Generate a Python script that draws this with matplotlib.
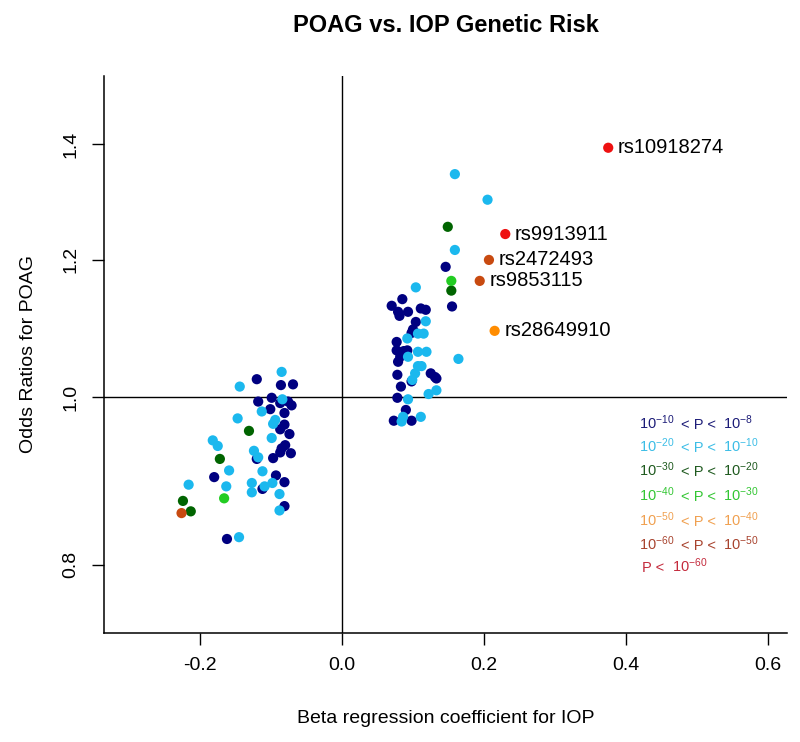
import matplotlib
matplotlib.use("Agg")
import matplotlib.pyplot as plt
from matplotlib.ticker import FixedLocator, FixedFormatter, NullLocator

plt.rcParams["font.family"] = ["Liberation Sans", "DejaVu Sans"]
plt.rcParams["mathtext.fontset"] = "custom"
plt.rcParams["mathtext.rm"] = "Liberation Sans"
plt.rcParams["mathtext.it"] = "Liberation Sans"

# beta (IOP) and odds ratio (POAG) per P-value class
beta_p8 = [0.146, 0.070, 0.085, 0.079, 0.081, 0.093, 0.111, 0.118, 0.155, 0.104,
           0.100, 0.098, 0.077, 0.077, 0.087, 0.092, 0.082, 0.079, 0.125, 0.131,
           0.133, 0.078, 0.098, 0.083, 0.078, 0.090, 0.073, 0.098,
           -0.120, -0.086, -0.069, -0.099, -0.118, -0.087, -0.076, -0.071, -0.101,
           -0.081, -0.081, -0.087, -0.074, -0.080, -0.085, -0.087, -0.072, -0.097,
           -0.120, -0.093, -0.180, -0.081, -0.112, -0.081, -0.162]
or_p8 = [1.189, 1.129, 1.139, 1.120, 1.114, 1.120, 1.125, 1.123, 1.128, 1.105,
         1.094, 1.089, 1.076, 1.064, 1.063, 1.064, 1.055, 1.048, 1.032, 1.027,
         1.025, 1.030, 1.021, 1.014, 0.999, 0.983, 0.969, 0.969,
         1.024, 1.016, 1.017, 0.999, 0.994, 0.992, 0.994, 0.989, 0.984,
         0.979, 0.964, 0.958, 0.952, 0.938, 0.934, 0.929, 0.928, 0.922,
         0.921, 0.901, 0.899, 0.893, 0.885, 0.865, 0.828]

beta_p10 = [0.159, 0.205, 0.159, 0.104, 0.118, 0.107, 0.115, 0.092, 0.107, 0.119,
            0.093, 0.164, 0.107, 0.112, 0.103, 0.099, 0.133, 0.122, 0.093, 0.086,
            0.084, 0.111,
            -0.085, -0.144, -0.084, -0.113, -0.147, -0.094, -0.097, -0.099, -0.182,
            -0.175, -0.124, -0.118, -0.159, -0.112, -0.163, -0.127, -0.109, -0.098,
            -0.216, -0.127, -0.088, -0.088, -0.145]
or_p10 = [1.345, 1.300, 1.216, 1.157, 1.106, 1.088, 1.088, 1.081, 1.062, 1.062,
          1.055, 1.052, 1.042, 1.042, 1.032, 1.023, 1.009, 1.004, 0.997, 0.974,
          0.968, 0.974,
          1.034, 1.014, 0.997, 0.981, 0.972, 0.970, 0.965, 0.947, 0.944,
          0.937, 0.931, 0.923, 0.907, 0.906, 0.888, 0.892, 0.888, 0.892,
          0.890, 0.881, 0.879, 0.860, 0.830]

beta_p20 = [0.149, 0.154, -0.131, -0.172, -0.224, -0.213]
or_p20 = [1.254, 1.152, 0.956, 0.921, 0.871, 0.859]

beta_p30 = [0.154, -0.166]
or_p30 = [1.167, 0.874]

beta_p40 = [0.215]
or_p40 = [1.092]

beta_p50 = [0.207, 0.194, -0.226]
or_p50 = [1.200, 1.167, 0.857]

beta_p60 = [0.230, 0.375]
or_p60 = [1.242, 1.393]

snp_names = ["rs10918274", "rs9913911", "rs2472493", "rs9853115", "rs28649910"]
snp_beta = [0.375, 0.230, 0.207, 0.194, 0.215]
snp_or = [1.393, 1.242, 1.200, 1.167, 1.092]

class_colors = ["#000080", "#1BB8EE", "#006400", "#22CC22", "#FF8C00", "#C84A10", "#EE1111"]
text_colors = ["#1C1C78", "#3CBDE6", "#1F5A1F", "#33C633", "#F0A050", "#A8432E", "#C42A3C"]
legend_lo = ["10^{-10}", "10^{-20}", "10^{-30}", "10^{-40}", "10^{-50}", "10^{-60}"]
legend_hi = ["10^{-8}", "10^{-10}", "10^{-20}", "10^{-30}", "10^{-40}", "10^{-50}"]

groups = [(beta_p8, or_p8), (beta_p10, or_p10), (beta_p20, or_p20),
          (beta_p30, or_p30), (beta_p40, or_p40), (beta_p50, or_p50),
          (beta_p60, or_p60)]

fig = plt.figure(figsize=(8, 7.42), dpi=100)
ax = fig.add_axes([0.13, 0.1469, 0.85375, 0.7507])

ax.axhline(1.0, color="black", lw=1.0, zorder=1)
ax.axvline(0.0, color="black", lw=1.0, zorder=1)

for (bx, oy), col in zip(groups, class_colors):
    ax.scatter(bx, oy, s=54, color=col, edgecolors="none", zorder=3)

for name, bx, oy in zip(snp_names, snp_beta, snp_or):
    ax.annotate(name, (bx, oy), xytext=(7, 0), textcoords="offset points",
                va="center", ha="left", fontsize=14.5)

ax.set_yscale("log")
ax.set_xlim(-0.3352, 0.6268)
ax.set_ylim(0.7307, 1.5325)
ax.set_xticks([-0.2, 0.0, 0.2, 0.4, 0.6])
ax.set_xticklabels(["-0.2", "0.0", "0.2", "0.4", "0.6"])
ax.yaxis.set_major_locator(FixedLocator([0.8, 1.0, 1.2, 1.4]))
ax.yaxis.set_major_formatter(FixedFormatter(["0.8", "1.0", "1.2", "1.4"]))
ax.yaxis.set_minor_locator(NullLocator())
for lab in ax.get_yticklabels():
    lab.set_rotation(90)
    lab.set_va("center")

ax.tick_params(direction="out", length=8.5, width=1.0, labelsize=14, pad=9)
for side in ["top", "right"]:
    ax.spines[side].set_visible(False)
for side in ["left", "bottom"]:
    ax.spines[side].set_linewidth(1.1)

ax.set_xlabel("Beta regression coefficient for IOP", fontsize=14)
ax.set_ylabel("Odds Ratios for POAG", fontsize=14)
ax.xaxis.set_label_coords(0.5, -0.153)
ax.xaxis.label.set_va("center")
ax.yaxis.set_label_coords(-0.11, 0.5)
ax.yaxis.label.set_va("center")

fig.text(0.5575, 0.9574, "POAG vs. IOP Genetic Risk", ha="center", va="baseline",
         fontsize=17, fontweight="bold")

# P-value legend drawn as text
rows_y = [0.366, 0.325, 0.282, 0.237, 0.192, 0.149, 0.110]
for i in range(6):
    ax.text(0.783, rows_y[i], "$" + legend_lo[i] + "$", transform=ax.transAxes,
            fontsize=10.5, color=text_colors[i], va="baseline")
    ax.text(0.845, rows_y[i], "< P <", transform=ax.transAxes,
            fontsize=10.5, color=text_colors[i], va="baseline")
    ax.text(0.906, rows_y[i], "$" + legend_hi[i] + "$", transform=ax.transAxes,
            fontsize=10.5, color=text_colors[i], va="baseline")
ax.text(0.788, rows_y[6], "P <", transform=ax.transAxes,
        fontsize=10.5, color=text_colors[6], va="baseline")
ax.text(0.831, rows_y[6], "$10^{-60}$", transform=ax.transAxes,
        fontsize=10.5, color=text_colors[6], va="baseline")

fig.savefig("out.png", dpi=100)
